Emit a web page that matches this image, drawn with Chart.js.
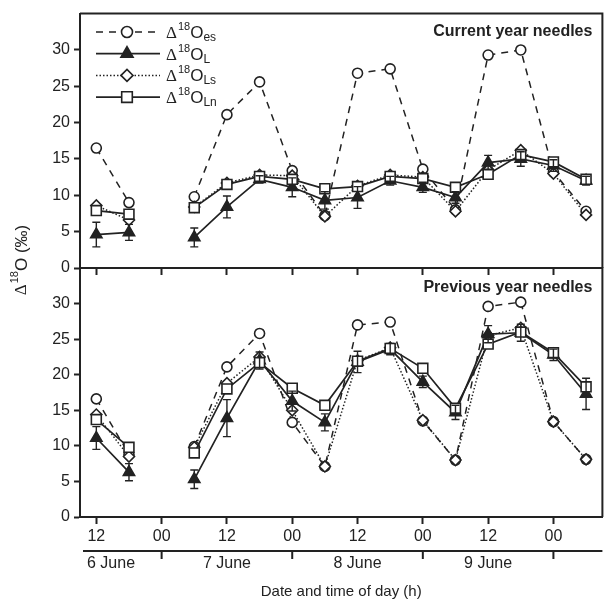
<!DOCTYPE html>
<html>
<head>
<meta charset="utf-8">
<script src="https://cdn.jsdelivr.net/npm/chart.js@4.4.1/dist/chart.umd.min.js"></script>
<style>
  body { margin: 0; background: #fff; }
  #wrap { position: relative; width: 611px; height: 603px; background: #fff; }
  canvas { position: absolute; left: 0; }
</style>
</head>
<body>
<div id="wrap">
  <canvas id="top" width="611" height="290" style="top:0"></canvas>
  <canvas id="bottom" width="611" height="403" style="top:200px"></canvas>
</div>
<script>
// hours counted from 6 June 00:00; null at 24 breaks the lines (no sample)
var hours = [12, 18, 24, 30, 36, 42, 48, 54, 60, 66, 72, 78, 84, 90, 96, 102];
var xTicks = [12, 24, 36, 48, 60, 72, 84, 96];
var yTicks = [0, 5, 10, 15, 20, 25, 30];
var dayLabels = ['6 June', '7 June', '8 June', '9 June'];
var dayLabelHours = [14.7, 36, 60, 84];
var daySplits = [24, 48, 72, 96];

// Current year needles
var curEs  = [16.5, 9.0, null, 9.8, 21.1, 25.6, 13.4, 7.2, 26.8, 27.4, 13.6, 8.0, 29.3, 30.0, 13.2, 7.8];
var curL   = [4.6, 4.9, null, 4.2, 8.4, 12.2, 11.1, 9.3, 9.7, 12.0, 11.1, 9.7, 14.5, 15.0, 14.1, 12.0];
var curLErr = [1.7, 1.1, null, 1.3, 1.5, 0.5, 1.3, 1.2, 1.5, 0.6, 0.7, 0.8, 1.0, 1.0, 0.8, 0.6];
var curLs  = [8.6, 6.6, null, 8.4, 11.7, 12.8, 12.7, 7.1, 11.3, 12.8, 12.5, 7.8, 13.5, 16.2, 13.0, 7.3];
var curLn  = [7.9, 7.4, null, 8.3, 11.5, 12.6, 12.2, 10.9, 11.2, 12.6, 12.3, 11.1, 12.9, 15.6, 14.6, 12.2];

// Previous year needles
var prvEs  = [16.6, 8.8, null, 9.9, 21.1, 25.8, 13.3, 7.1, 27.0, 27.4, 13.5, 8.0, 29.6, 30.2, 13.4, 8.1];
var prvL   = [11.1, 6.3, null, 5.3, 13.9, 22.0, 16.3, 13.3, 21.8, 23.6, 19.0, 14.7, 25.7, 25.9, 22.8, 17.3];
var prvLErr = [1.6, 1.2, null, 1.3, 2.6, 1.2, 1.4, 1.2, 1.5, 0.8, 0.8, 1.0, 1.2, 1.2, 0.8, 2.2];
var prvLs  = [14.4, 8.5, null, 9.8, 18.8, 22.5, 15.0, 7.1, 22.0, 23.8, 13.6, 8.0, 25.5, 26.6, 13.4, 8.1];
var prvLn  = [13.7, 9.8, null, 9.0, 18.0, 21.7, 18.1, 15.7, 21.9, 23.7, 20.9, 15.3, 24.3, 26.0, 23.1, 18.3];

var FONT = "'Liberation Sans', Arial, sans-serif";
var INK = '#222';

function pts(arr) {
    return hours.map(function(h, i) { return {x: h, y: arr[i]}; });
}

var styles = {
    es: {pointStyle: 'circle', radius: 5, fill: '#fff', dash: [7, 6], width: 1.5},
    L:  {pointStyle: 'triangle', radius: 6.5, fill: INK, dash: [], width: 1.7},
    Ls: {pointStyle: 'rectRot', radius: 5.5, fill: '#fff', dash: [1.5, 2], width: 1.5},
    Ln: {pointStyle: 'rect', radius: 7, fill: '#fff', dash: [], width: 1.7}
};

function makeSet(key, arr, err) {
    var s = styles[key];
    return {
        label: key,
        data: pts(arr),
        err: err,
        borderColor: INK,
        backgroundColor: s.fill,
        borderWidth: s.width,
        borderDash: s.dash,
        pointStyle: s.pointStyle,
        pointRadius: s.radius,
        pointBorderWidth: 1.6,
        pointBackgroundColor: s.fill,
        pointBorderColor: INK,
        tension: 0,
        spanGaps: false
    };
}

// draws "Δ18O" with a subscript
function drawIso(ctx, x, y, sub) {
    ctx.save();
    ctx.fillStyle = INK;
    ctx.textAlign = 'left';
    ctx.textBaseline = 'alphabetic';
    ctx.font = "17px 'Liberation Serif', serif";
    ctx.fillText('\u0394', x, y);
    x += ctx.measureText('\u0394').width + 1;
    ctx.font = '11px ' + FONT;
    ctx.fillText('18', x, y - 8);
    x += ctx.measureText('18').width;
    ctx.font = '17px ' + FONT;
    ctx.fillText('O', x, y);
    x += ctx.measureText('O').width;
    if (sub) {
        ctx.font = '12px ' + FONT;
        ctx.fillText(sub, x, y + 3);
    }
    ctx.restore();
}

var panelPlugin = {
    id: 'panel',
    afterDatasetsDraw: function(chart) {
        var ctx = chart.ctx;
        var yS = chart.scales.y, xS = chart.scales.x;
        // error bars
        ctx.save();
        ctx.strokeStyle = INK;
        ctx.lineWidth = 1.4;
        chart.data.datasets.forEach(function(ds) {
            if (!ds.err) return;
            ds.data.forEach(function(p, i) {
                if (p.y === null || ds.err[i] === null) return;
                var px = xS.getPixelForValue(p.x);
                var lo = yS.getPixelForValue(p.y - ds.err[i]);
                var hi = yS.getPixelForValue(p.y + ds.err[i]);
                ctx.beginPath();
                ctx.moveTo(px, lo); ctx.lineTo(px, hi);
                ctx.moveTo(px - 4, lo); ctx.lineTo(px + 4, lo);
                ctx.moveTo(px - 4, hi); ctx.lineTo(px + 4, hi);
                ctx.stroke();
            });
        });
        ctx.restore();
    },
    afterDraw: function(chart, args, opts) {
        var ctx = chart.ctx, a = chart.chartArea;
        ctx.save();
        ctx.strokeStyle = INK;
        ctx.lineWidth = 2;
        ctx.beginPath();
        ctx.moveTo(a.left, a.top); ctx.lineTo(a.right, a.top); ctx.lineTo(a.right, a.bottom);
        ctx.stroke();
        ctx.fillStyle = INK;
        ctx.font = 'bold 16px ' + FONT;
        ctx.textAlign = 'right';
        ctx.textBaseline = 'middle';
        ctx.fillText(opts.title, a.right - 10, a.top + opts.titleOffset);
        ctx.restore();
    }
};

var legendPlugin = {
    id: 'isoLegend',
    afterDraw: function(chart) {
        var ctx = chart.ctx;
        var rows = [['es', 'es'], ['L', 'L'], ['Ls', 'Ls'], ['Ln', 'Ln']];
        rows.forEach(function(r, i) {
            var s = styles[r[0]];
            var y = 32 + i * 21.7;
            ctx.save();
            ctx.strokeStyle = INK;
            ctx.lineWidth = s.width;
            ctx.setLineDash(s.dash);
            ctx.beginPath();
            ctx.moveTo(96, y); ctx.lineTo(160, y);
            ctx.stroke();
            ctx.setLineDash([]);
            ctx.fillStyle = s.fill;
            ctx.lineWidth = 1.6;
            Chart.helpers.drawPoint(ctx, {pointStyle: s.pointStyle, radius: s.radius + 0.5, borderWidth: 1.6}, 127, y);
            ctx.restore();
            drawIso(ctx, 166, y + 6, r[1]);
        });
    }
};

var bottomExtras = {
    id: 'bottomExtras',
    afterDraw: function(chart) {
        var ctx = chart.ctx, xS = chart.scales.x, a = chart.chartArea;
        var lineY = a.bottom + 34;
        ctx.save();
        ctx.strokeStyle = INK;
        ctx.lineWidth = 2;
        ctx.beginPath();
        ctx.moveTo(83, lineY); ctx.lineTo(a.right, lineY);
        daySplits.forEach(function(h) {
            var px = xS.getPixelForValue(h);
            ctx.moveTo(px, lineY); ctx.lineTo(px, lineY + 8);
        });
        ctx.stroke();
        ctx.fillStyle = INK;
        ctx.font = '16px ' + FONT;
        ctx.textAlign = 'center';
        ctx.textBaseline = 'middle';
        dayLabels.forEach(function(d, i) {
            ctx.fillText(d, xS.getPixelForValue(dayLabelHours[i]), lineY + 13);
        });
        ctx.font = '15px ' + FONT;
        ctx.fillText('Date and time of day (h)', (a.left + a.right) / 2, a.bottom + 75);
        // shared y axis title, rotated
        ctx.translate(22, a.top - 8);
        ctx.rotate(-Math.PI / 2);
        ctx.textAlign = 'left';
        ctx.textBaseline = 'middle';
        ctx.font = "17px 'Liberation Serif', serif";
        var wD = ctx.measureText('\u0394').width;
        ctx.font = '11px ' + FONT;
        var w18 = ctx.measureText('18').width;
        ctx.font = '17px ' + FONT;
        var wO = ctx.measureText('O (\u2030)').width;
        var x = -(wD + w18 + wO + 1) / 2;
        ctx.font = "17px 'Liberation Serif', serif";
        ctx.fillText('\u0394', x, 0);
        x += wD + 1;
        ctx.font = '11px ' + FONT;
        ctx.fillText('18', x, -7);
        x += w18;
        ctx.font = '17px ' + FONT;
        ctx.fillText('O (\u2030)', x, 0);
        ctx.restore();
    }
};

function scalesFor(xHeight, showLabels) {
    return {
        x: {
            type: 'linear',
            min: 9,
            max: 105,
            afterBuildTicks: function(s) { s.ticks = xTicks.map(function(v) { return {value: v}; }); },
            afterFit: function(s) { s.height = xHeight; },
            grid: {display: true, drawOnChartArea: false, drawTicks: true, tickLength: 7, tickWidth: 2, tickColor: INK},
            border: {display: true, color: INK, width: 2},
            ticks: {
                display: showLabels,
                padding: 3,
                color: INK,
                font: {family: FONT, size: 16},
                maxRotation: 0,
                callback: function(v) { return v % 24 === 0 ? '00' : '12'; }
            }
        },
        y: {
            min: 0,
            max: 35,
            afterBuildTicks: function(s) { s.ticks = yTicks.map(function(v) { return {value: v}; }); },
            afterFit: function(s) { s.width = 80; },
            grid: {display: true, drawOnChartArea: false, drawTicks: true, tickLength: 6, tickWidth: 2, tickColor: INK},
            border: {display: true, color: INK, width: 2},
            ticks: {padding: 4, color: INK, font: {family: FONT, size: 16}}
        }
    };
}

function makeChart(id, sets, title, titleOffset, padTop, xHeight, showLabels, extra) {
    return new Chart(document.getElementById(id).getContext('2d'), {
        type: 'line',
        data: {datasets: sets},
        options: {
            responsive: false,
            animation: false,
            devicePixelRatio: 1,
            layout: {padding: {left: 0, right: 3, top: padTop, bottom: 0}},
            plugins: {
                legend: {display: false},
                tooltip: {enabled: false},
                panel: {title: title, titleOffset: titleOffset}
            },
            scales: scalesFor(xHeight, showLabels)
        },
        plugins: [panelPlugin].concat(extra)
    });
}

window.onload = function() {
    makeChart('top', [
        makeSet('Ln', curLn), makeSet('L', curL, curLErr), makeSet('Ls', curLs), makeSet('es', curEs)
    ], 'Current year needles', 18, 13, 22, false, [legendPlugin]);
    makeChart('bottom', [
        makeSet('Ln', prvLn), makeSet('L', prvL, prvLErr), makeSet('Ls', prvLs), makeSet('es', prvEs)
    ], 'Previous year needles', 20, 68, 86, true, [bottomExtras]);
};
</script>
</body>
</html>
